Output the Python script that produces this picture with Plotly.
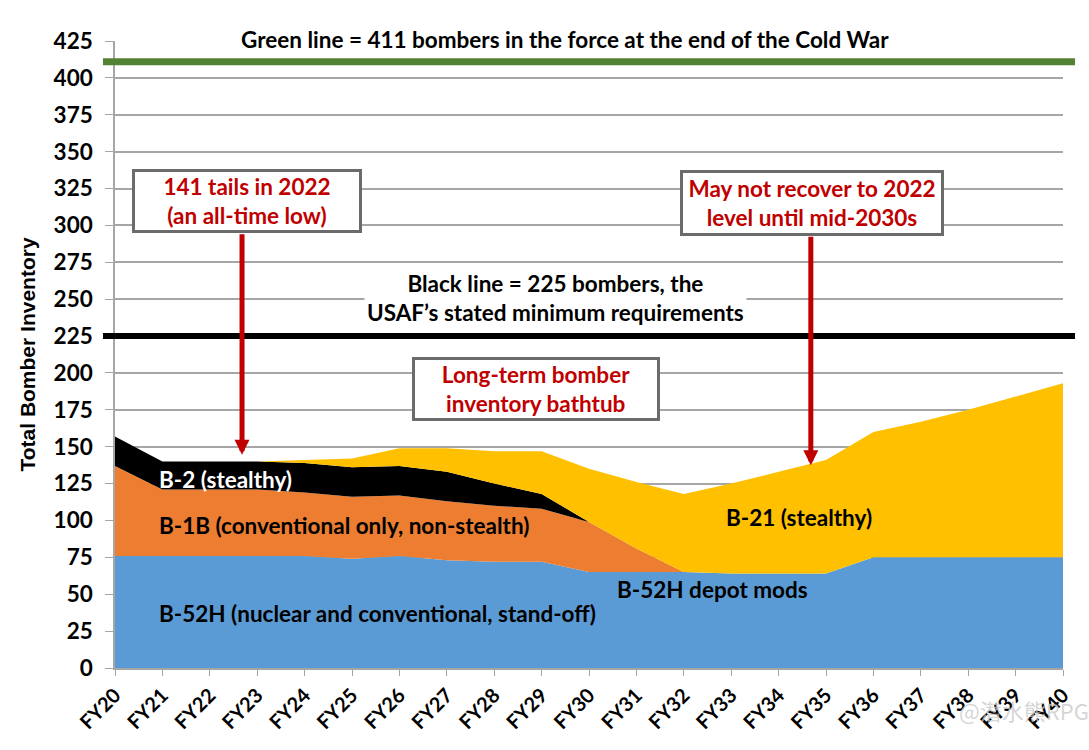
import plotly.graph_objects as go

years = ["FY20", "FY21", "FY22", "FY23", "FY24", "FY25", "FY26", "FY27", "FY28", "FY29", "FY30",
         "FY31", "FY32", "FY33", "FY34", "FY35", "FY36", "FY37", "FY38", "FY39", "FY40"]
b52 = [76, 76, 76, 76, 76, 74, 76, 73, 72, 72, 65, 65, 65, 64, 64, 64, 75, 75, 75, 75, 75]
b1b = [61, 45, 45, 45, 43, 42, 41, 40, 38, 36, 34, 16, 0, 0, 0, 0, 0, 0, 0, 0, 0]
b2 = [20, 19, 19, 19, 20, 20, 20, 20, 15, 10, 0, 0, 0, 0, 0, 0, 0, 0, 0, 0, 0]
b21 = [0, 0, 0, 0, 2, 6, 12, 16, 22, 29, 36, 45, 53, 61, 69, 77, 85, 92, 100, 109, 118]

cold_war = 411
minimum = 225

FONT = "Lato"
RED = "#C00000"
FS = 22.5

fig = go.Figure()
series = [("B-52H", b52, "#5B9BD5"), ("B-1B", b1b, "#ED7D31"), ("B-2", b2, "#000000"), ("B-21", b21, "#FFC000")]
for name, vals, col in series:
    fig.add_trace(go.Scatter(x=years, y=vals, name=name, stackgroup="one", mode="none",
                             fillcolor=col, line=dict(width=0), hoverinfo="x+y+name"))

# reference lines
fig.add_shape(type="line", xref="paper", yref="y", x0=-0.0127, x1=1.0127, y0=cold_war, y1=cold_war,
              line=dict(color="#548235", width=7), layer="above")
fig.add_shape(type="line", xref="paper", yref="y", x0=-0.0127, x1=1.0127, y0=minimum, y1=minimum,
              line=dict(color="#000000", width=6), layer="above")

anns = []
anns.append(dict(xref="paper", yref="paper", x=0.4747, y=1.003, yanchor="middle",
                 text="Green line = 411 bombers in the force at the end of the Cold War",
                 showarrow=False, bgcolor="white", font=dict(size=FS, color="black", family=FONT, weight="bold"),
                 borderpad=2))
anns.append(dict(xref="x", yref="y", x=9.3, y=250.5,
                 text="Black line = 225 bombers, the<br>USAF\u2019s stated minimum requirements",
                 showarrow=False, bgcolor="white", font=dict(size=FS, color="black", family=FONT, weight="bold"),
                 borderpad=2))
box_font = dict(size=FS, color=RED, family=FONT, weight="bold")
anns.append(dict(xref="x", yref="y", x=2.785, y=316.5, text="141 tails in 2022<br>(an all-time low)",
                 showarrow=False, bgcolor="white", bordercolor="#6B6B6B", borderwidth=3,
                 width=222, height=56, font=box_font))
anns.append(dict(xref="x", yref="y", x=14.7, y=315.5, text="May not recover to 2022<br>level until mid-2030s",
                 showarrow=False, bgcolor="white", bordercolor="#6B6B6B", borderwidth=3,
                 width=256, height=58, font=box_font))
anns.append(dict(xref="x", yref="y", x=8.88, y=189, text="Long-term bomber<br>inventory bathtub",
                 showarrow=False, bgcolor="white", bordercolor="#6B6B6B", borderwidth=3,
                 width=240, height=56, font=box_font))
# arrows
anns.append(dict(xref="x", yref="y", x=2.68, y=144.5, text="", showarrow=True, ax=0, ay=-222,
                 arrowhead=2, arrowsize=0.6, arrowwidth=5, arrowcolor=RED))
anns.append(dict(xref="x", yref="y", x=14.68, y=137.5, text="", showarrow=True, ax=0, ay=-230,
                 arrowhead=2, arrowsize=0.6, arrowwidth=5, arrowcolor=RED))

lab_font = dict(size=FS, family=FONT, weight="bold", color="black")
anns.append(dict(xref="paper", yref="y", x=(157 - 115) / 948, y=127.5, xanchor="left", showarrow=False,
                 text="B-2 (stealthy)", font=dict(size=FS, family=FONT, weight="bold", color="white")))
anns.append(dict(xref="paper", yref="y", x=(157 - 115) / 948, y=96.5, xanchor="left", showarrow=False,
                 text="B-1B (conventional only, non-stealth)", font=lab_font))
anns.append(dict(xref="paper", yref="y", x=(157 - 115) / 948, y=37, xanchor="left", showarrow=False,
                 text="B-52H (nuclear and conventional, stand-off)", font=lab_font))
anns.append(dict(xref="paper", yref="y", x=(615 - 115) / 948, y=53.5, xanchor="left", showarrow=False,
                 text="B-52H depot mods", font=lab_font))
anns.append(dict(xref="paper", yref="y", x=(724 - 115) / 948, y=102, xanchor="left", showarrow=False,
                 text="B-21 (stealthy)", font=lab_font))
# watermark
anns.append(dict(xref="paper", yref="paper", x=1.03, y=-0.095, xanchor="right", showarrow=False,
                 text="@潜水熊RPG", font=dict(size=22, family="Noto Sans CJK SC", color="rgba(200,200,200,0.75)")))

fig.update_layout(
    width=1089, height=750,
    margin=dict(l=115, r=26, t=41, b=82),
    paper_bgcolor="white", plot_bgcolor="white",
    showlegend=False,
    annotations=anns,
    font=dict(family=FONT),
)
fig.update_xaxes(type="category", range=[0, 20], showgrid=False, showline=True, linecolor="#A6A6A6",
                 linewidth=1.5, ticks="outside", ticklen=6, tickcolor="#A6A6A6", tickangle=-45,
                 tickfont=dict(size=20, family=FONT, weight="bold", color="black"))
fig.update_yaxes(range=[0, 425], dtick=25, tick0=0, showgrid=True, gridcolor="#A6A6A6", gridwidth=1.5,
                 showline=True, linecolor="#A6A6A6", linewidth=1.5, ticks="outside", ticklen=8,
                 tickcolor="#A6A6A6", zeroline=False, ticklabelstandoff=8,
                 tickfont=dict(size=22.5, family=FONT, weight="bold", color="black"),
                 title=dict(text="Total Bomber Inventory", standoff=12,
                            font=dict(size=21, family="Liberation Sans", weight="bold", color="black")))

fig.write_html("out.html")
